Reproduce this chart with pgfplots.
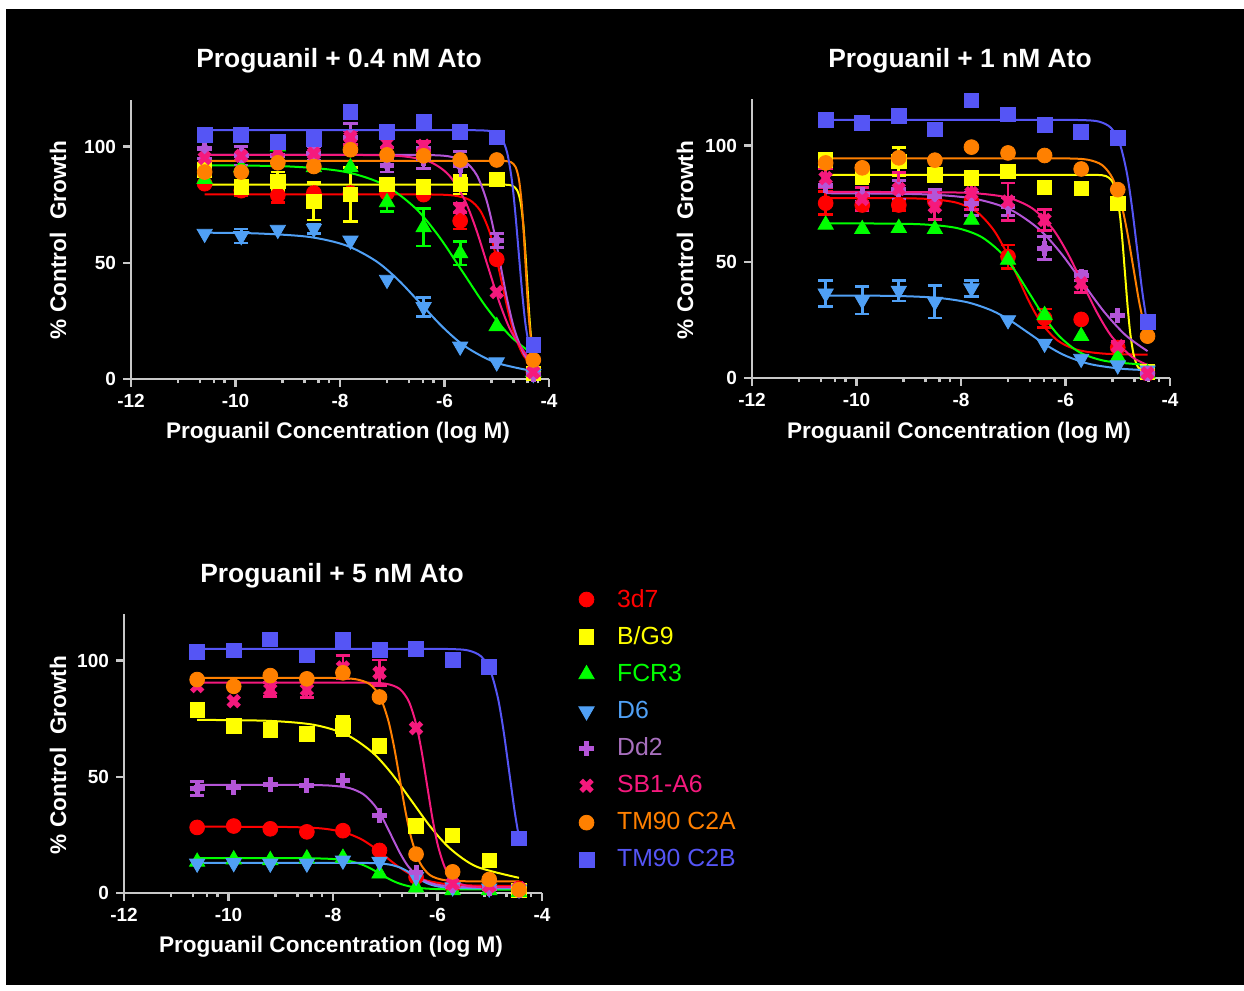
\documentclass[border=0pt]{standalone}
\usepackage{pgfplots}
\pgfplotsset{compat=1.18}
\usepackage{fontspec}
\setmainfont{Liberation Sans}
\definecolor{c3d7}{RGB}{255,0,0}
\definecolor{cbg}{RGB}{255,255,0}
\definecolor{cfcr}{RGB}{0,255,0}
\definecolor{cd6}{RGB}{80,160,245}
\definecolor{cdd}{RGB}{180,85,215}
\definecolor{tdd}{RGB}{168,112,190}
\definecolor{csb}{RGB}{245,25,125}
\definecolor{cca}{RGB}{255,128,0}
\definecolor{ccb}{RGB}{85,85,245}
\definecolor{axgray}{RGB}{200,200,200}
\pgfplotsset{
 panel/.style={scale only axis, width=209pt, height=139.5pt, xmin=-12, xmax=-4, ymin=0, ymax=120,
  axis x line*=bottom, axis y line*=left, clip=false,
  xtick={-12,-10,-8,-6,-4}, xticklabels={-12,-10,-8,-6,-4},
  minor xtick={-11.1,-10.68,-10.41,-10.21,-9.1,-8.68,-8.41,-8.21,-7.1,-6.68,-6.41,-6.21,-5.1,-4.68,-4.41,-4.21},
  ytick={0,50,100}, yticklabels={0,50,100}, xtick pos=bottom, ytick pos=left,
  tick align=outside, major tick length=4pt, minor tick length=2.2pt,
  axis line style={draw=axgray, line width=1.1pt},
  major tick style={draw=axgray, line width=1.1pt},
  minor tick style={draw=axgray, line width=1.1pt},
  tick label style={font=\bfseries\fontsize{9.5}{11}\selectfont, color=white},
  anchor=south west},
 fit/.style={no marks, smooth, line width=1pt, forget plot, color=#1},
 eb/.style={forget plot, only marks, mark=none, color=#1, error bars/.cd, y dir=both, y explicit,
  error bar style={draw=#1, line width=1.4pt}, error mark options={rotate=90, draw=#1, line width=1.4pt, mark size=3.6pt}},
 m3d7/.style={only marks, color=c3d7, mark=*, mark size=3.7pt},
 mbg/.style={only marks, color=cbg, mark=square*, mark size=3.6pt},
 mfcr/.style={only marks, color=cfcr, mark=triangle*, mark size=4.4pt},
 md6/.style={only marks, color=cd6, mark=triangle*, mark size=4.4pt, mark options={rotate=180}},
 mdd/.style={only marks, color=cdd, mark=+, mark size=3.7pt, mark options={line width=2.5pt}},
 msb/.style={only marks, color=csb, mark=x, mark size=3.8pt, mark options={line width=2.6pt}},
 mca/.style={only marks, color=cca, mark=*, mark size=3.7pt},
 mcb/.style={only marks, color=ccb, mark=square*, mark size=3.7pt},
}
\begin{document}
\begin{tikzpicture}[x=0.5pt,y=0.5pt]
\fill[white] (0,0) rectangle (1244,991);
\fill[black] (6,6) rectangle (1244,982);
\coordinate (A1) at (131,612);
\coordinate (A2) at (752,613);
\coordinate (A3) at (124,98);

% ---------------- Panel 1 ----------------
\begin{axis}[panel, at={(A1)}]
\addplot[fit=c3d7] coordinates {(-10.59,79.4)(-8.23,79.4)(-6.98,79.4)(-6.23,79.35)(-5.82,78.92)(-5.525,77.06)(-5.317,72.45)(-5.15,64.06)(-5.025,53.89)(-4.9,41.2)(-4.775,28.51)(-4.65,18.34)(-4.483,9.95)(-4.3,5.68)};
\addplot[m3d7] coordinates {(-10.59,84)(-9.89,81)(-9.19,79)(-8.50,80)(-7.80,80)(-7.10,80)(-6.40,79.3)(-5.70,68)(-5.00,51.5)(-4.30,3)};
\addplot[eb=c3d7] coordinates {(-9.89,81) +- (0,2) (-9.19,79) +- (0,3) (-5.70,68) +- (0,3.5)};

\addplot[fit=cbg] coordinates {(-10.59,83.6)(-5.42,83.6)(-5.045,83.6)(-4.82,83.55)(-4.695,83.09)(-4.608,81.1)(-4.545,76.18)(-4.495,67.22)(-4.458,56.36)(-4.42,42.8)(-4.383,29.24)(-4.345,18.38)(-4.3,10.06)};
\addplot[mbg] coordinates {(-10.59,90)(-9.89,82.6)(-9.19,85)(-8.50,76.4)(-7.80,79.3)(-7.10,83.6)(-6.40,82.6)(-5.70,83.6)(-5.00,85.8)(-4.30,2.5)};
\addplot[eb=cbg] coordinates {(-9.89,82.6) +- (0,2) (-9.19,85) +- (0,4) (-8.50,76.4) +- (0,8) (-7.80,79.3) +- (0,11.5) (-7.10,83.6) +- (0,2) (-5.70,83.6) +- (0,4)};

\addplot[fit=cfcr] coordinates {(-10.59,91.95)(-8.983,91.42)(-7.923,89.18)(-7.165,83.64)(-6.559,73.53)(-6.105,61.28)(-5.65,46)(-5.195,30.72)(-4.741,18.47)(-4.3,10.48)};
\addplot[mfcr] coordinates {(-10.59,86)(-9.89,91)(-9.19,100)(-8.50,91)(-7.80,91)(-7.10,76)(-6.40,65.2)(-5.70,54)(-5.00,22.7)(-4.30,3)};
\addplot[eb=cfcr] coordinates {(-7.10,76) +- (0,4) (-6.40,65.2) +- (0,8) (-5.70,54) +- (0,5)};

\addplot[fit=cd6] coordinates {(-10.59,62.92)(-9.593,62.61)(-8.593,61.11)(-7.879,57.41)(-7.307,50.65)(-6.879,42.47)(-6.45,32.25)(-6.021,22.03)(-5.593,13.85)(-5.021,7.09)(-4.3,3.36)};
\addplot[md6] coordinates {(-10.59,62.5)(-9.89,61.5)(-9.19,64.2)(-8.50,64.7)(-7.80,59.6)(-7.10,42.7)(-6.40,31)(-5.70,14)(-5.00,7.2)(-4.30,2.2)};
\addplot[eb=cd6] coordinates {(-9.89,61.5) +- (0,3) (-8.50,64.7) +- (0,2) (-6.40,31) +- (0,4)};

\addplot[fit=cdd] coordinates {(-10.59,96.4)(-8.566,96.4)(-7.203,96.4)(-6.385,96.34)(-5.93,95.81)(-5.612,93.51)(-5.385,87.82)(-5.203,77.45)(-5.066,64.88)(-4.93,49.2)(-4.794,33.52)(-4.657,20.95)(-4.475,10.58)(-4.3,5.73)};
\addplot[mdd] coordinates {(-10.59,99)(-9.89,96)(-9.19,96)(-8.50,97)(-7.80,104)(-7.10,92)(-6.40,95)(-5.70,91.7)(-5.00,59.7)(-4.30,2)};
\addplot[eb=cdd] coordinates {(-10.59,99) +- (0,4) (-9.89,96) +- (0,4) (-8.50,97) +- (0,3) (-7.80,104) +- (0,6) (-7.10,92) +- (0,3) (-6.40,95) +- (0,4.5) (-5.70,91.7) +- (0,6) (-5.00,59.7) +- (0,3)};

\addplot[fit=csb] coordinates {(-10.59,96.4)(-8.884,96.4)(-7.55,96.34)(-6.81,95.81)(-6.291,93.51)(-5.921,87.82)(-5.624,77.45)(-5.402,64.88)(-5.18,49.2)(-4.958,33.52)(-4.736,20.95)(-4.439,10.58)(-4.3,7.75)};
\addplot[msb] coordinates {(-10.59,95)(-9.89,96)(-9.19,98)(-8.50,97)(-7.80,104)(-7.10,101.4)(-6.40,100.3)(-5.70,73.5)(-5.00,37.4)(-4.30,2.9)};
\addplot[eb=csb] coordinates {(-9.19,98) +- (0,2) (-7.80,104) +- (0,3) (-7.10,101.4) +- (0,2) (-6.40,100.3) +- (0,2) (-5.70,73.5) +- (0,2)};

\addplot[fit=cca] coordinates {(-10.59,93.8)(-5.45,93.8)(-5.075,93.8)(-4.85,93.74)(-4.725,93.25)(-4.638,91.11)(-4.575,85.82)(-4.525,76.18)(-4.488,64.49)(-4.45,49.9)(-4.413,35.31)(-4.375,23.62)(-4.325,13.98)(-4.3,11.21)};
\addplot[mca] coordinates {(-10.59,89)(-9.89,89)(-9.19,93)(-8.50,91.4)(-7.80,98.6)(-7.10,96.4)(-6.40,96)(-5.70,94.2)(-5.00,94.2)(-4.30,8.2)};

\addplot[fit=ccb] coordinates {(-10.59,107)(-6.358,107)(-5.691,107)(-5.291,106.93)(-5.069,106.34)(-4.913,103.78)(-4.802,97.45)(-4.713,85.92)(-4.647,71.94)(-4.58,54.5)(-4.513,37.06)(-4.447,23.08)(-4.358,11.55)(-4.3,7.46)};
\addplot[mcb] coordinates {(-10.59,105)(-9.89,105)(-9.19,102)(-8.50,103.3)(-7.80,114.8)(-7.10,106.2)(-6.40,110.8)(-5.70,106.2)(-5.00,103.9)(-4.30,14.8)};
\end{axis}

% ---------------- Panel 2 ----------------
\begin{axis}[panel, at={(A2)}]
\addplot[fit=c3d7] coordinates {(-10.59,77.4)(-9.381,77.36)(-8.612,76.98)(-8.074,75.33)(-7.689,71.27)(-7.382,63.87)(-7.151,54.9)(-6.92,43.7)(-6.689,32.5)(-6.458,23.53)(-6.151,16.13)(-5.766,12.07)(-5.228,10.42)(-4.43,10.04)};
\addplot[m3d7] coordinates {(-10.59,75.2)(-9.89,74.4)(-9.19,74.4)(-8.50,76)(-7.80,76)(-7.10,52.2)(-6.40,25.7)(-5.70,25.2)(-5.00,13.1)(-4.43,2)};
\addplot[eb=c3d7] coordinates {(-10.59,75.2) +- (0,5) (-9.19,74.4) +- (0,2.5) (-7.10,52.2) +- (0,5) (-6.40,25.7) +- (0,4)};

\addplot[fit=cbg] coordinates {(-10.59,87.4)(-6.193,87.4)(-5.693,87.4)(-5.393,87.35)(-5.227,86.86)(-5.11,84.78)(-5.027,79.64)(-4.96,70.26)(-4.91,58.89)(-4.86,44.7)(-4.81,30.51)(-4.76,19.14)(-4.693,9.76)(-4.61,4.62)(-4.493,2.54)(-4.43,2.22)};
\addplot[mbg] coordinates {(-10.59,93.8)(-9.89,87.4)(-9.19,93.1)(-8.50,87.4)(-7.80,86)(-7.10,88.8)(-6.40,82.1)(-5.70,81.6)(-5.00,75.2)(-4.43,2.6)};
\addplot[eb=cbg] coordinates {(-9.89,87.4) +- (0,4) (-9.19,93.1) +- (0,6)};

\addplot[fit=cfcr] coordinates {(-10.59,66.5)(-9.728,66.46)(-8.775,66.12)(-8.109,64.63)(-7.632,60.95)(-7.251,54.25)(-6.966,46.13)(-6.68,36)(-6.394,25.87)(-6.109,17.75)(-5.728,11.05)(-5.251,7.37)(-4.585,5.88)(-4.43,5.76)};
\addplot[mfcr] coordinates {(-10.59,65.9)(-9.89,64)(-9.19,64.5)(-8.50,64)(-7.80,68)(-7.10,50.8)(-6.40,27)(-5.70,18)(-5.00,9)(-4.43,2)};

\addplot[fit=cd6] coordinates {(-10.59,35.48)(-9.288,35.3)(-8.465,34.5)(-7.876,32.55)(-7.406,28.98)(-7.053,24.65)(-6.7,19.25)(-6.347,13.85)(-5.994,9.52)(-5.524,5.95)(-4.935,4.0)(-4.43,3.38)};
\addplot[md6] coordinates {(-10.59,36.4)(-9.89,33.5)(-9.19,37.6)(-8.50,32.8)(-7.80,38.6)(-7.10,24.9)(-6.40,14.8)(-5.70,8.3)(-5.00,5.5)(-4.43,3.3)};
\addplot[eb=cd6] coordinates {(-10.59,36.4) +- (0,5.5) (-9.89,33.5) +- (0,6) (-9.19,37.6) +- (0,4.5) (-8.50,32.8) +- (0,7) (-7.80,38.6) +- (0,3.5)};

\addplot[fit=cdd] coordinates {(-10.59,79.47)(-8.736,79.02)(-7.763,77.15)(-7.069,72.55)(-6.513,64.14)(-6.097,53.96)(-5.68,41.25)(-5.263,28.54)(-4.847,18.36)(-4.43,11.55)};
\addplot[mdd] coordinates {(-10.59,82.7)(-9.89,78.8)(-9.19,81)(-8.50,78)(-7.80,75)(-7.10,73.8)(-6.40,55.8)(-5.70,43.9)(-5.00,27)(-4.43,2)};
\addplot[eb=cdd] coordinates {(-9.89,78.8) +- (0,3) (-9.19,81) +- (0,4) (-8.50,78) +- (0,3) (-7.80,75) +- (0,5) (-7.10,73.8) +- (0,4) (-6.40,55.8) +- (0,5) (-5.70,43.9) +- (0,2)};

\addplot[fit=csb] coordinates {(-10.59,80)(-8.728,79.95)(-7.775,79.51)(-7.109,77.61)(-6.632,72.91)(-6.251,64.34)(-5.966,53.96)(-5.68,41)(-5.394,28.04)(-5.109,17.66)(-4.728,9.09)(-4.43,5.63)};
\addplot[msb] coordinates {(-10.59,86)(-9.89,77)(-9.19,81.3)(-8.50,73.7)(-7.80,79.5)(-7.10,75.9)(-6.40,68)(-5.70,40.7)(-5.00,13.7)(-4.43,2)};
\addplot[eb=csb] coordinates {(-10.59,86) +- (0,4) (-9.89,77) +- (0,5) (-9.19,81.3) +- (0,7) (-8.50,73.7) +- (0,5.5) (-7.80,79.5) +- (0,7) (-7.10,75.9) +- (0,8) (-6.40,68) +- (0,4.5) (-5.70,40.7) +- (0,4) (-5.00,13.7) +- (0,2)};

\addplot[fit=cca] coordinates {(-10.59,94.5)(-7.9,94.5)(-6.7,94.5)(-5.98,94.44)(-5.58,93.91)(-5.3,91.6)(-5.1,85.91)(-4.94,75.53)(-4.82,62.95)(-4.7,47.25)(-4.58,31.55)(-4.43,16.49)};
\addplot[mca] coordinates {(-10.59,92.5)(-9.89,90.4)(-9.19,94.7)(-8.50,93.7)(-7.80,99.3)(-7.10,96.8)(-6.40,95.7)(-5.70,89.9)(-5.00,81)(-4.43,18)};

\addplot[fit=ccb] coordinates {(-10.59,111)(-7.297,111)(-6.297,111)(-5.697,110.93)(-5.363,110.3)(-5.13,107.6)(-4.963,100.91)(-4.83,88.72)(-4.73,73.94)(-4.63,55.5)(-4.53,37.06)(-4.43,22.28)};
\addplot[mcb] coordinates {(-10.59,110.9)(-9.89,109.8)(-9.19,112.7)(-8.50,106.9)(-7.80,119.4)(-7.10,113.4)(-6.40,108.8)(-5.70,105.9)(-5.00,103.3)(-4.43,24.2)};
\end{axis}

% ---------------- Panel 3 ----------------
\begin{axis}[panel, at={(A3)},
  legend style={draw=none, fill=none, at={(rel axis cs:1.073,1.1196)}, anchor=north west,
   font=\fontsize{12.4}{14}\selectfont, row sep=4.3pt,
   /tikz/every odd column/.append style={column sep=9.5pt}},
  legend cell align=left]
\addplot[fit=c3d7] coordinates {(-10.6,28.5)(-9.56,28.48)(-8.76,28.34)(-8.2,27.72)(-7.8,26.18)(-7.48,23.38)(-7.24,19.99)(-7.0,15.75)(-6.76,11.51)(-6.52,8.12)(-6.2,5.32)(-5.8,3.78)(-5.24,3.16)(-4.44,3.02)};
\addplot[m3d7] coordinates {(-10.60,28.2)(-9.90,28.8)(-9.20,27.6)(-8.50,26.3)(-7.81,26.8)(-7.11,18.3)(-6.41,6.9)(-5.71,3)(-5.01,2.5)(-4.44,2)};
\addlegendentry{\textcolor{c3d7}{3d7}}

\addplot[fit=cbg] coordinates {(-10.6,74.46)(-9.25,74.06)(-8.375,72.37)(-7.75,68.18)(-7.25,60.55)(-6.875,51.3)(-6.5,39.75)(-6.125,28.2)(-5.75,18.95)(-5.25,11.32)(-4.44,6.53)};
\addplot[mbg] coordinates {(-10.60,78.8)(-9.90,71.9)(-9.20,70.2)(-8.50,68.5)(-7.81,71.8)(-7.11,63.3)(-6.41,28.8)(-5.71,24.7)(-5.01,14.1)(-4.44,1.2)};
\addlegendentry{\textcolor{cbg}{B/G9}}
\addplot[eb=cbg] coordinates {(-7.81,71.8) +- (0,4)};

\addplot[fit=cfcr] coordinates {(-10.6,15)(-10.04,15)(-8.982,14.99)(-8.394,14.92)(-7.982,14.59)(-7.688,13.77)(-7.453,12.29)(-7.276,10.49)(-7.1,8.25)(-6.924,6.01)(-6.747,4.21)(-6.512,2.73)(-6.218,1.91)(-5.806,1.58)(-5.218,1.51)(-4.44,1.5)};
\addplot[mfcr] coordinates {(-10.60,13.4)(-9.90,14.4)(-9.20,14.1)(-8.50,14.8)(-7.81,15.1)(-7.11,8.3)(-6.41,2.3)(-5.71,1.2)(-5.01,1.2)(-4.44,0.4)};
\addlegendentry{\textcolor{cfcr}{FCR3}}

\addplot[fit=cd6] coordinates {(-10.6,13)(-9.783,13)(-8.533,13)(-7.783,12.99)(-7.367,12.93)(-7.075,12.66)(-6.867,12)(-6.7,10.79)(-6.575,9.33)(-6.45,7.5)(-6.325,5.67)(-6.2,4.21)(-6.033,3)(-5.825,2.34)(-5.533,2.07)(-5.117,2.01)(-4.44,2)};
\addplot[md6] coordinates {(-10.60,12.7)(-9.90,12.9)(-9.20,12.7)(-8.50,12.7)(-7.81,14)(-7.11,13.5)(-6.41,7)(-5.71,2.5)(-5.01,2)(-4.44,1.5)};
\addlegendentry{\textcolor{cd6}{D6}}

\addplot[fit=cdd] coordinates {(-10.6,46.5)(-9.583,46.5)(-8.61,46.47)(-8.069,46.22)(-7.691,45.15)(-7.42,42.5)(-7.204,37.67)(-7.042,31.81)(-6.88,24.5)(-6.718,17.19)(-6.556,11.33)(-6.339,6.5)(-6.069,3.85)(-5.691,2.78)(-5.15,2.53)(-4.44,2.5)};
\addplot[mdd] coordinates {(-10.60,45)(-9.90,45.5)(-9.20,46.5)(-8.50,46.2)(-7.81,48.6)(-7.11,33.2)(-6.41,8.8)(-5.71,3)(-5.01,2)(-4.44,1)};
\addlegendentry{\textcolor{tdd}{Dd2}}
\addplot[eb=cdd] coordinates {(-10.60,45) +- (0,3)};

\addplot[fit=csb] coordinates {(-10.6,90.5)(-9.007,90.5)(-7.954,90.5)(-7.323,90.44)(-6.972,89.95)(-6.726,87.8)(-6.551,82.5)(-6.411,72.83)(-6.305,61.12)(-6.2,46.5)(-6.095,31.88)(-5.989,20.17)(-5.849,10.5)(-5.674,5.2)(-5.428,3.05)(-5.077,2.56)(-4.44,2.5)};
\addplot[msb] coordinates {(-10.60,89)(-9.90,82.5)(-9.20,87.5)(-8.50,87.5)(-7.81,97)(-7.11,94.7)(-6.41,70.9)(-5.71,4)(-5.01,3)(-4.44,2)};
\addlegendentry{\textcolor{csb}{SB1-A6}}
\addplot[eb=csb] coordinates {(-9.20,87.5) +- (0,3) (-8.50,87.5) +- (0,3.5) (-7.81,97) +- (0,5) (-7.11,94.7) +- (0,5.5)};

\addplot[fit=cca] coordinates {(-10.6,92.5)(-9.797,92.5)(-8.643,92.5)(-7.951,92.45)(-7.566,91.95)(-7.297,89.82)(-7.105,84.55)(-6.951,74.94)(-6.835,63.29)(-6.72,48.75)(-6.605,34.21)(-6.489,22.56)(-6.335,12.95)(-6.143,7.68)(-5.874,5.55)(-5.489,5.06)(-4.797,5)(-4.44,5)};
\addplot[mca] coordinates {(-10.60,91.8)(-9.90,88.9)(-9.20,93.5)(-8.50,92.1)(-7.81,94.7)(-7.11,84.3)(-6.41,16.7)(-5.71,9.1)(-5.01,5.8)(-4.44,1.4)};
\addlegendentry{\textcolor{cca}{TM90 C2A}}

\addplot[fit=ccb] coordinates {(-10.6,105)(-7.487,105)(-6.416,105)(-5.773,104.93)(-5.416,104.34)(-5.166,101.78)(-4.987,95.45)(-4.844,83.92)(-4.737,69.94)(-4.63,52.5)(-4.523,35.06)(-4.44,23.84)};
\addplot[mcb] coordinates {(-10.60,103.6)(-9.90,104.3)(-9.20,109.1)(-8.50,102.2)(-7.81,108.8)(-7.11,104.7)(-6.41,105)(-5.71,100.4)(-5.01,97.1)(-4.44,23.5)};
\addlegendentry{\textcolor{ccb}{TM90 C2B}}
\end{axis}

% ---------------- Titles and labels ----------------
\begin{scope}[every node/.style={text=white, inner sep=0pt}]
\node[font=\bfseries\fontsize{13.2}{15}\selectfont, anchor=base] at (339,923.5) {Proguanil + 0.4 nM Ato};
\node[font=\bfseries\fontsize{13.2}{15}\selectfont, anchor=base] at (960,923.5) {Proguanil + 1 nM Ato};
\node[font=\bfseries\fontsize{13.2}{15}\selectfont, anchor=base] at (332,408.5) {Proguanil + 5 nM Ato};
\node[font=\bfseries\fontsize{11.3}{13}\selectfont, anchor=base] at (338,552) {Proguanil Concentration (log M)};
\node[font=\bfseries\fontsize{11.3}{13}\selectfont, anchor=base] at (959,552) {Proguanil Concentration (log M)};
\node[font=\bfseries\fontsize{11.3}{13}\selectfont, anchor=base] at (331,38) {Proguanil Concentration (log M)};
\node[font=\bfseries\fontsize{11.3}{13}\selectfont, anchor=base, rotate=90] at (66,751) {\% Control\ \ Growth};
\node[font=\bfseries\fontsize{11.3}{13}\selectfont, anchor=base, rotate=90] at (693,751) {\% Control\ \ Growth};
\node[font=\bfseries\fontsize{11.3}{13}\selectfont, anchor=base, rotate=90] at (66,236) {\% Control\ \ Growth};
\end{scope}
\end{tikzpicture}
\end{document}
